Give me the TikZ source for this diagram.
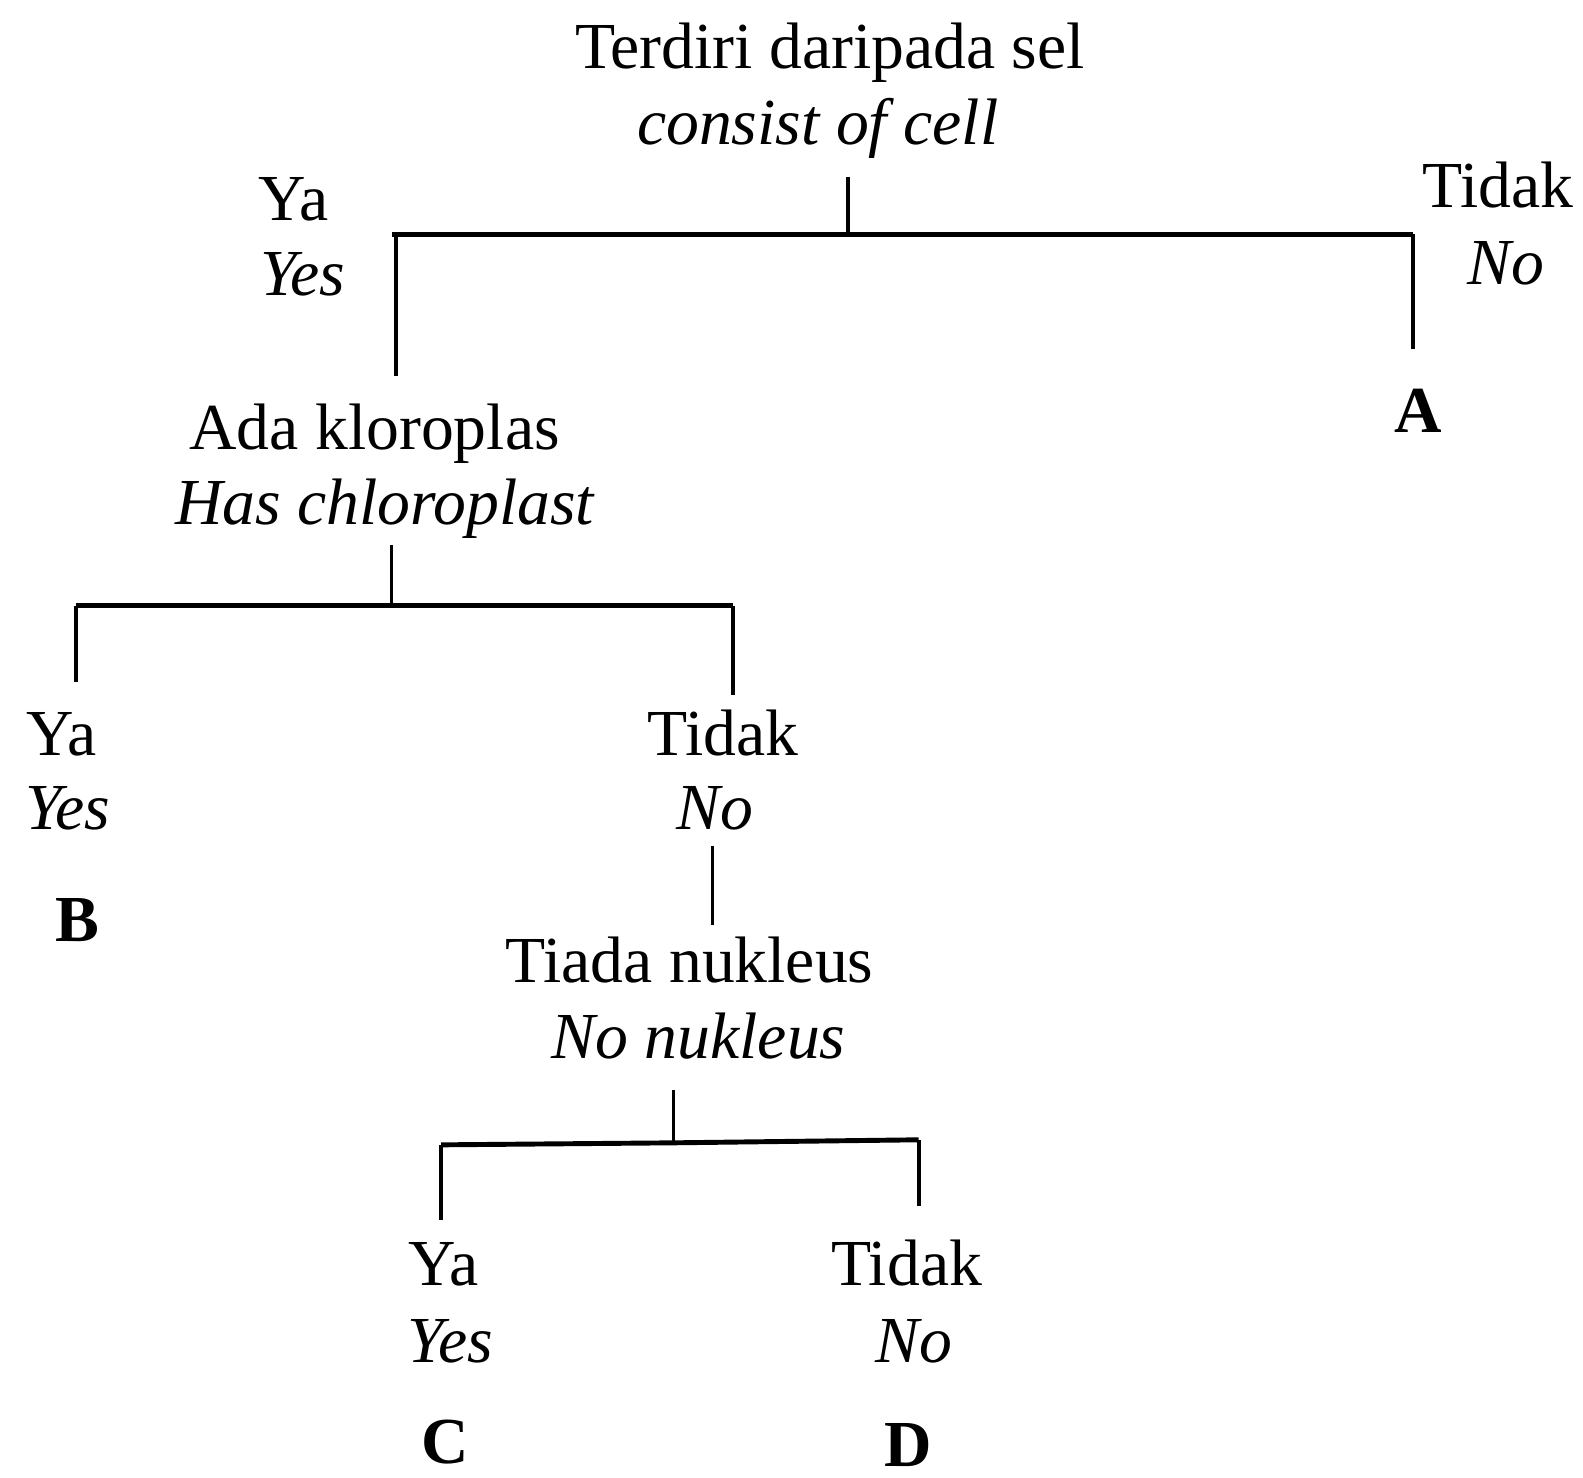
\documentclass[tikz,border=0pt]{standalone}
\usepackage{fontspec}
\setmainfont{Liberation Serif}

\begin{document}
\begin{tikzpicture}[x=0.010096cm, y=-0.010096cm,
    txt/.style={anchor=base, inner sep=0pt, font=\fontsize{18.7}{22}\selectfont},
    eng/.style={txt, font=\fontsize{18.7}{22}\selectfont\itshape},
    leaf/.style={txt, font=\fontsize{18.7}{22}\selectfont\bfseries},
    bar/.style={line width=1.4pt},
    drop/.style={line width=1.1pt},
    stem/.style={line width=0.9pt}]
    \useasboundingbox (0,0) rectangle (1568,1464);

    % First question
    \node[txt] (q1) at (822,68) {Terdiri daripada sel};
    \node[eng] (q1en) at (810,143) {consist of cell};
    \node[txt] (ya1) at (291,218) {Ya};
    \node[eng] (yes1) at (300,293) {Yes};
    \node[txt] (tidak1) at (1484,206) {Tidak};
    \node[eng] (no1) at (1492,282) {No};
    \node[leaf] (A) at (1405,428) {A};

    % Second question
    \node[txt] (q2) at (371,445) {Ada kloroplas};
    \node[eng] (q2en) at (381,520) {Has chloroplast};
    \node[txt] (ya2) at (61,748) {Ya};
    \node[eng] (yes2) at (67,822) {Yes};
    \node[leaf] (B) at (77,933) {B};
    \node[txt] (tidak2) at (716,748) {Tidak};
    \node[eng] (no2) at (708,822) {No};

    % Third question
    \node[txt] (q3) at (683,973) {Tiada nukleus};
    \node[eng] (q3en) at (692,1048) {No nukleus};
    \node[txt] (ya3) at (439,1273) {Ya};
    \node[eng] (yes3) at (446,1350) {Yes};
    \node[leaf] (C) at (441,1450) {C};
    \node[txt] (tidak3) at (898,1273) {Tidak};
    \node[eng] (no3) at (905,1350) {No};
    \node[leaf] (D) at (900,1453) {D};

    % Branch points
    \coordinate (t1) at (840,175);
    \coordinate (j1) at (840,232);
    \coordinate (l1) at (392,232);
    \coordinate (r1) at (1400,232);
    \coordinate (l1e) at (392,372);
    \coordinate (r1e) at (1400,346);

    \coordinate (t2) at (388,540);
    \coordinate (j2) at (388,600);
    \coordinate (l2) at (75,600);
    \coordinate (r2) at (726,600);
    \coordinate (l2e) at (75,676);
    \coordinate (r2e) at (726,688);

    \coordinate (t3) at (706,838);
    \coordinate (b3) at (706,916);

    \coordinate (t4) at (667,1080);
    \coordinate (j4) at (667,1132);
    \coordinate (l4) at (437,1134);
    \coordinate (r4) at (910,1129);
    \coordinate (l4e) at (437,1208);
    \coordinate (r4e) at (910,1195);

    % Lines
    \draw[stem] (t1) -- (j1);
    \draw[bar] ([xshift=-1pt]l1) -- (r1);
    \draw[drop] (l1) -- (l1e);
    \draw[drop] (r1) -- (r1e);

    \draw[stem] (t2) -- (j2);
    \draw[bar] (l2) -- (r2);
    \draw[drop] (l2) -- (l2e);
    \draw[drop] (r2) -- (r2e);

    \draw[stem] (t3) -- (b3);

    \draw[stem] (t4) -- (j4);
    \draw[bar] (l4) -- (j4) -- (r4);
    \draw[drop] (l4) -- (l4e);
    \draw[drop] (r4) -- (r4e);
\end{tikzpicture}
\end{document}
